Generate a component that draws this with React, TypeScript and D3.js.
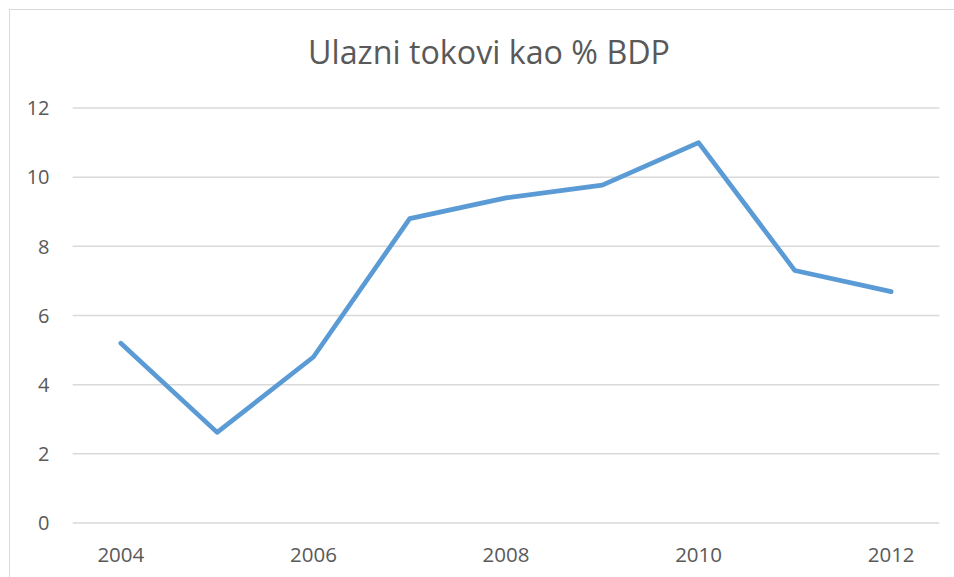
import React from "react";
import * as d3 from "d3";

const years: string[] = ["2004", "2005", "2006", "2007", "2008", "2009", "2010", "2011", "2012"];
const values: number[] = [5.2, 2.62, 4.8, 8.8, 9.4, 9.77, 11.0, 7.3, 6.69];
const yTicks: number[] = [0, 2, 4, 6, 8, 10, 12];
const xTickLabels: string[] = ["2004", "2006", "2008", "2010", "2012"];
const title = "Ulazni tokovi kao % BDP";

const W = 954;
const H = 577;
const FONT = "'Open Sans', 'Noto Sans', sans-serif";
const TEXT = "#595959";

export default function App() {
  const x = d3.scaleBand<string>().domain(years).range([72.7, 939.3]);
  const y = d3.scaleLinear().domain([0, 12]).range([523, 108]);
  const cx = (d: string) => (x(d) as number) + x.bandwidth() / 2;
  const line = d3
    .line<number>()
    .x((_, i) => cx(years[i]))
    .y((v) => y(v));

  return (
    <svg
      width={W}
      height={H}
      style={{ position: "absolute", left: 0, top: 0, background: "#fff" }}
      fontFamily={FONT}
    >
      <rect x={0} y={0} width={W} height={H} fill="#fff" />
      <rect x={9.5} y={9.5} width={W + 20} height={H + 20} fill="#fff" stroke="#D9D9D9" strokeWidth={1} />
      <text
        x={489}
        y={64}
        textAnchor="middle"
        fontSize={33}
        fill={TEXT}
        textLength={362}
        lengthAdjust="spacingAndGlyphs"
      >
        {title}
      </text>
      {yTicks.map((t) => (
        <g key={t}>
          <line x1={72.7} x2={939.3} y1={y(t)} y2={y(t)} stroke="#D9D9D9" strokeWidth={1.5} />
          <text x={49.5} y={y(t)} dy="0.36em" textAnchor="end" fontSize={20} fill={TEXT}>
            {t}
          </text>
        </g>
      ))}
      {xTickLabels.map((l) => (
        <text key={l} x={cx(l)} y={562} textAnchor="middle" fontSize={20.5} fill={TEXT}>
          {l}
        </text>
      ))}
      <path
        d={line(values) || ""}
        fill="none"
        stroke="#5B9BD5"
        strokeWidth={4.7}
        strokeLinecap="round"
        strokeLinejoin="round"
      />
    </svg>
  );
}
